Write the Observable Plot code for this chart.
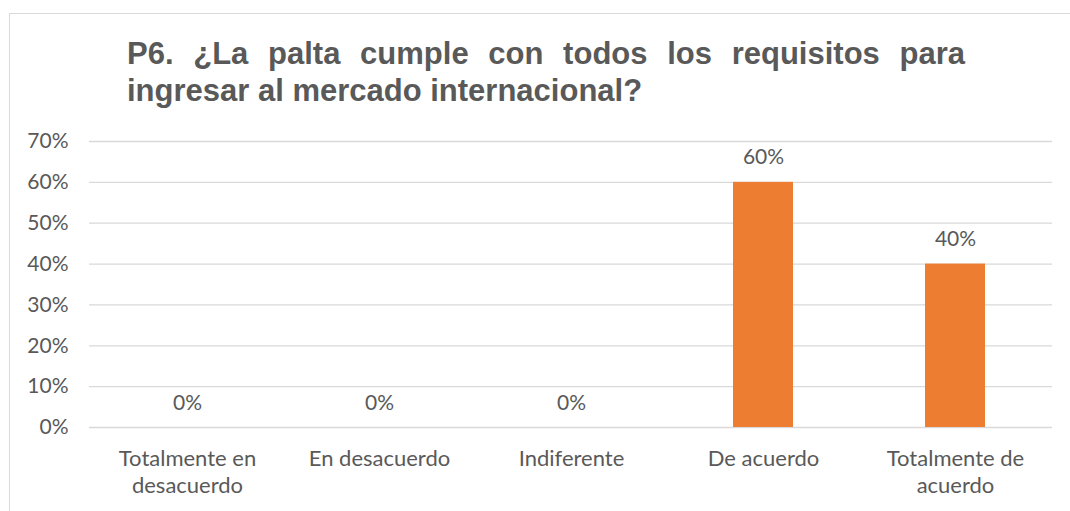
<!DOCTYPE html>
<html>
<head>
<meta charset="utf-8">
<script src="https://cdn.jsdelivr.net/npm/d3@7"></script>
<script src="https://cdn.jsdelivr.net/npm/@observablehq/plot@0.6"></script>
<style>
  html, body { margin: 0; padding: 0; background: #fff; }
  #wrap { position: relative; width: 1070px; height: 511px; overflow: hidden; }
  #frame { position: absolute; left: 9px; top: 13px; right: -2px; bottom: -2px;
           border-top: 1px solid #d9d9d9; border-left: 1px solid #d9d9d9; }
  #title { position: absolute; left: 127px; top: 35px; width: 838px;
           font-family: "Liberation Sans", Arial, sans-serif; font-weight: bold;
           font-size: 31px; line-height: 37px; color: #595959; text-align: justify; }
  #chart { position: absolute; left: 0; top: 120px; }
</style>
</head>
<body>
<div id="wrap">
  <div id="frame"></div>
  <div id="title">P6. ¿La palta cumple con todos los requisitos para ingresar al mercado internacional?</div>
  <div id="chart"></div>
</div>
<script>
const categories = ["Totalmente en desacuerdo", "En desacuerdo", "Indiferente", "De acuerdo", "Totalmente de acuerdo"];
const tickLabels = ["Totalmente en\ndesacuerdo", "En desacuerdo", "Indiferente", "De acuerdo", "Totalmente de\nacuerdo"];
const values = [0, 0, 0, 0.60, 0.40];
const yTicks = [0, 0.1, 0.2, 0.3, 0.4, 0.5, 0.6, 0.7];

const data = categories.map((c, i) => ({category: c, value: values[i]}));
const labelOf = new Map(categories.map((c, i) => [c, tickLabels[i]]));
const pct = v => `${Math.round(v * 100)}%`;

const chart = Plot.plot({
  width: 1070,
  height: 391,
  marginTop: 21,
  marginBottom: 84,
  marginLeft: 89,
  marginRight: 18,
  style: {fontFamily: "Lato, sans-serif", fontSize: "21px", color: "#595959", background: "transparent"},
  x: {domain: categories, paddingInner: 0.69, paddingOuter: 0.345, label: null},
  y: {domain: [0, 0.7], label: null},
  marks: [
    Plot.gridY(yTicks, {stroke: "#d9d9d9", strokeOpacity: 1, strokeWidth: 1.3}),
    Plot.barY(data, {x: "category", y: "value", fill: "#ED7D31"}),
    Plot.text(data, {x: "category", y: "value", text: d => pct(d.value), lineAnchor: "bottom", dy: -18, fill: "#595959", fontSize: 21}),
    Plot.axisY(yTicks, {tickSize: 0, tickPadding: 21, tickFormat: pct, fill: "#595959", fontSize: 21}),
    Plot.axisX({tickSize: 0, tickPadding: 20, tickFormat: c => labelOf.get(c), lineHeight: 1.2, fill: "#595959", fontSize: 22})
  ]
});
document.getElementById("chart").appendChild(chart);
</script>
</body>
</html>
